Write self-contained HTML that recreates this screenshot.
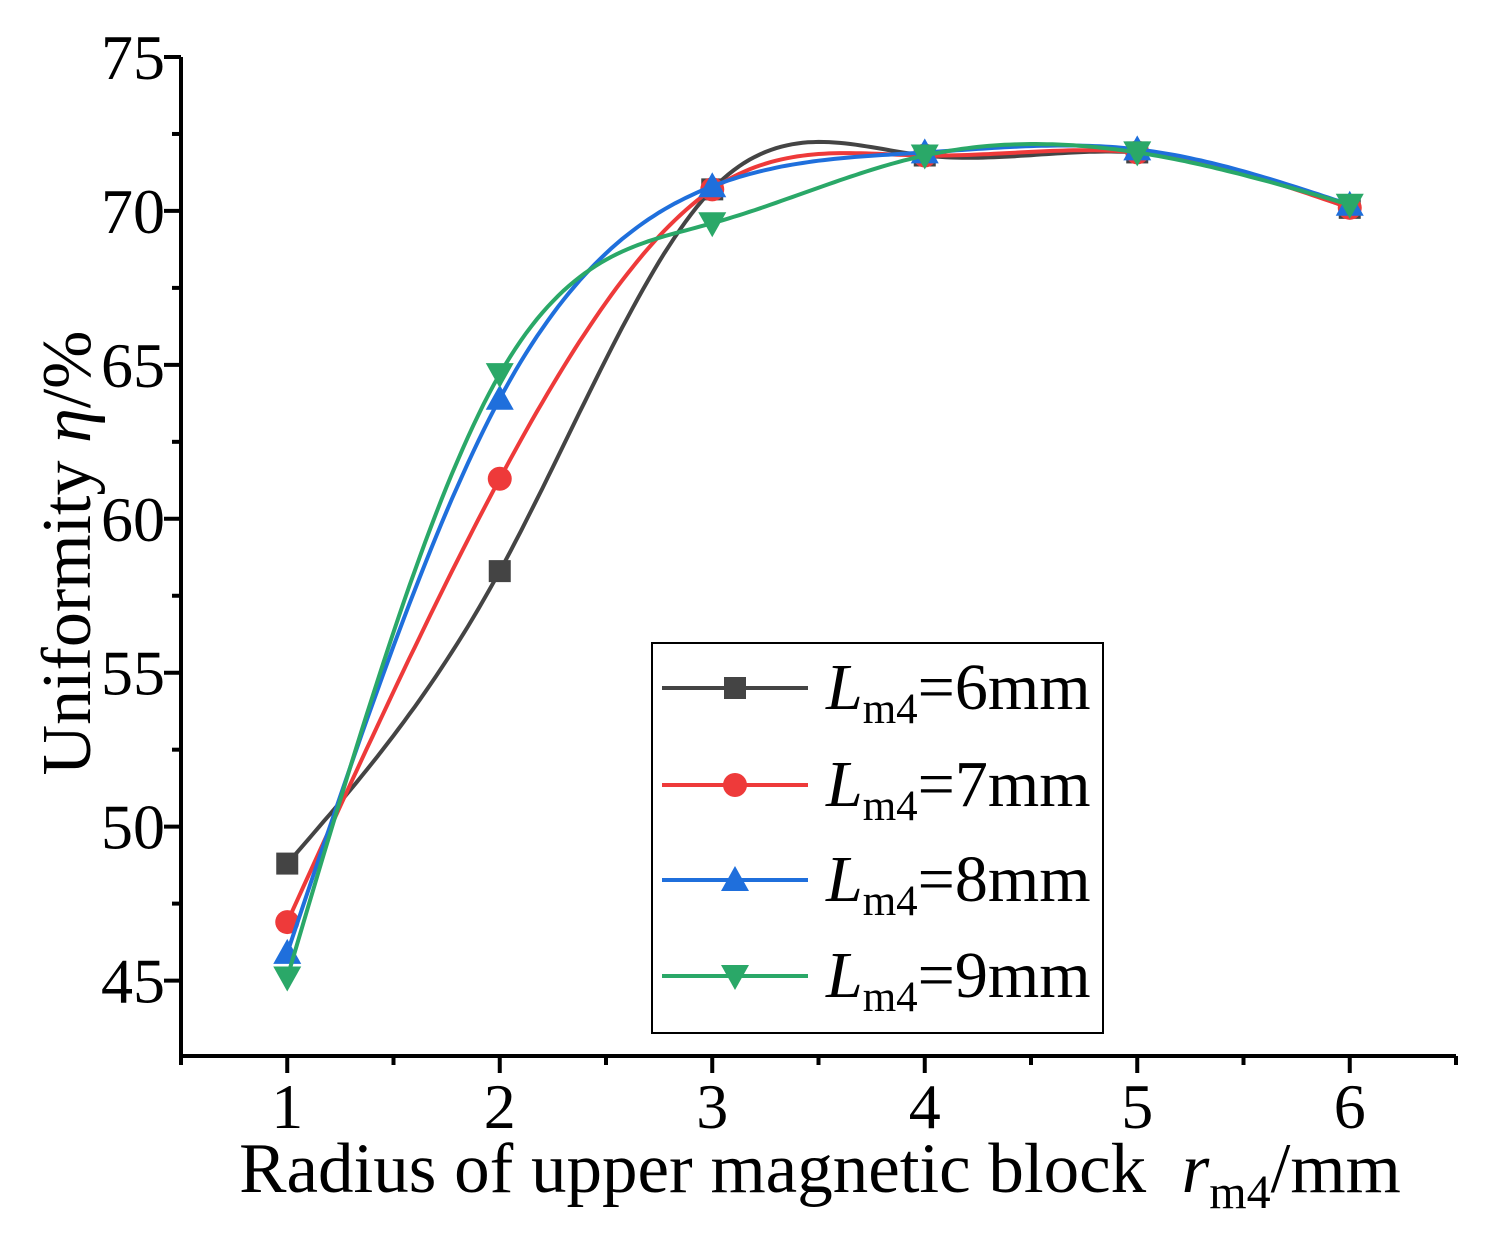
<!DOCTYPE html>
<html><head><meta charset="utf-8"><style>
html,body{margin:0;padding:0;background:#fff;}
svg text{font-family:"Liberation Serif",serif;fill:#000;}
</style></head><body>
<svg id="chart" width="1488" height="1240" xmlns="http://www.w3.org/2000/svg">
<g id="axes"></g>
<g id="series"></g>
<g id="legend"></g>
<text transform="translate(90,553) rotate(-90)" text-anchor="middle" font-size="70">Uniformity <tspan font-style="italic">η</tspan>/%</text>
<text x="820" y="1192" text-anchor="middle" font-size="71" xml:space="preserve">Radius of upper magnetic block  <tspan font-style="italic">r</tspan><tspan font-size="48" dy="16">m4</tspan><tspan dy="-16">/mm</tspan></text>
</svg>
<script>
const categories = [1,2,3,4,5,6];
const seriesNames = ["6mm","7mm","8mm","9mm"];
const s6 = [48.8,58.3,70.7,71.8,71.9,70.1];
const s7 = [46.9,61.3,70.7,71.8,71.9,70.1];
const s8 = [45.9,63.9,70.8,71.9,72.0,70.2];
const s9 = [45.1,64.7,69.6,71.8,71.9,70.2];
const yTicks = [45,50,55,60,65,70,75];
const xTicks = [1,2,3,4,5,6];

const NS="http://www.w3.org/2000/svg";
const X0=181,X1=1456,Y0=1056,Y1=57;
const xmin=0.5,xmax=6.5,ymin=42.55,ymax=75;
const xs=v=>X0+(v-xmin)/(xmax-xmin)*(X1-X0);
const ys=v=>Y0-(v-ymin)/(ymax-ymin)*(Y0-Y1);
function mk(tag,attrs,parent){const e=document.createElementNS(NS,tag);for(const k in attrs)e.setAttribute(k,attrs[k]);parent.appendChild(e);return e;}
const axes=document.getElementById('axes');
let e=mk('path',{d:`M${X0},${Y1}V${Y0}H${X1}`,fill:'none',stroke:'#000','stroke-width':4},axes);

for(let v=45;v<=75;v+=2.5){const maj=v%5===0;const t=mk('line',{x1:X0,x2:X0-(maj?17:9),y1:ys(v),y2:ys(v),stroke:'#000','stroke-width':4},axes);
}
yTicks.forEach(v=>{const t=mk('text',{x:165,y:ys(v)+22,'text-anchor':'end','font-size':64},axes);t.textContent=v;
});
for(let v=0.5;v<=6.5;v+=0.5){const maj=Number.isInteger(v);const t=mk('line',{x1:xs(v),x2:xs(v),y1:Y0,y2:Y0+(maj?17:9),stroke:'#000','stroke-width':4},axes);
}
xTicks.forEach(v=>{const t=mk('text',{x:xs(v),y:1128,'text-anchor':'middle','font-size':64},axes);t.textContent=v;
});

function spline(x,y){const n=x.length,h=[],a=[],l=[1],mu=[0],z=[0],c=new Array(n).fill(0),b=[],d=[];
for(let i=0;i<n-1;i++)h[i]=x[i+1]-x[i];
for(let i=1;i<n-1;i++)a[i]=3/h[i]*(y[i+1]-y[i])-3/h[i-1]*(y[i]-y[i-1]);
for(let i=1;i<n-1;i++){l[i]=2*(x[i+1]-x[i-1])-h[i-1]*mu[i-1];mu[i]=h[i]/l[i];z[i]=(a[i]-h[i-1]*z[i-1])/l[i];}
l[n-1]=1;z[n-1]=0;
for(let j=n-2;j>=0;j--){c[j]=z[j]-mu[j]*c[j+1];b[j]=(y[j+1]-y[j])/h[j]-h[j]*(c[j+1]+2*c[j])/3;d[j]=(c[j+1]-c[j])/(3*h[j]);}
const pts=[];for(let i=0;i<n-1;i++)for(let k=0;k<40;k++){const t=k/40*h[i];pts.push([x[i]+t,y[i]+b[i]*t+c[i]*t*t+d[i]*t*t*t]);}
pts.push([x[n-1],y[n-1]]);return pts;}

function marker(type,cx,cy,color,parent){
 if(type==='square')return mk('rect',{x:cx-11,y:cy-11,width:22,height:22,fill:color},parent);
 if(type==='circle')return mk('circle',{cx:cx,cy:cy,r:12,fill:color},parent);
 if(type==='up')return mk('polygon',{points:`${cx},${cy-14} ${cx-14},${cy+11} ${cx+14},${cy+11}`,fill:color},parent);
 return mk('polygon',{points:`${cx},${cy+14} ${cx-14},${cy-11} ${cx+14},${cy-11}`,fill:color},parent);}

const data=[s6,s7,s8,s9];
const colors=['#444444','#ee3a3a','#1f6fdc','#2aa868'];
const markers=['square','circle','up','down'];
const sg=document.getElementById('series');
data.forEach((vals,si)=>{
 const g=mk('g',{},sg);
 const pts=spline(categories,vals);
 const p=mk('path',{d:'M'+pts.map(q=>xs(q[0]).toFixed(1)+','+ys(q[1]).toFixed(1)).join('L'),fill:'none',stroke:colors[si],'stroke-width':4},g);
 
 vals.forEach((v,i)=>{const m=marker(markers[si],xs(categories[i]),ys(v),colors[si],g);
 });
});

const lg=document.getElementById('legend');
e=mk('rect',{x:652,y:643,width:451,height:390,fill:'#fff',stroke:'#000','stroke-width':2},lg);

const ly=[688,785,880,976];
seriesNames.forEach((nm,i)=>{
 const g=mk('g',{},lg);
 mk('line',{x1:662,x2:808,y1:ly[i],y2:ly[i],stroke:colors[i],'stroke-width':4},g);
 marker(markers[i],735,ly[i],colors[i],g);
 const t=mk('text',{x:826,y:ly[i]+21,'font-size':66},g);
 t.innerHTML='<tspan font-style="italic">L</tspan><tspan font-size="43" dy="14">m4</tspan><tspan dy="-14">='+nm+'</tspan>';
});
</script>
</body></html>
